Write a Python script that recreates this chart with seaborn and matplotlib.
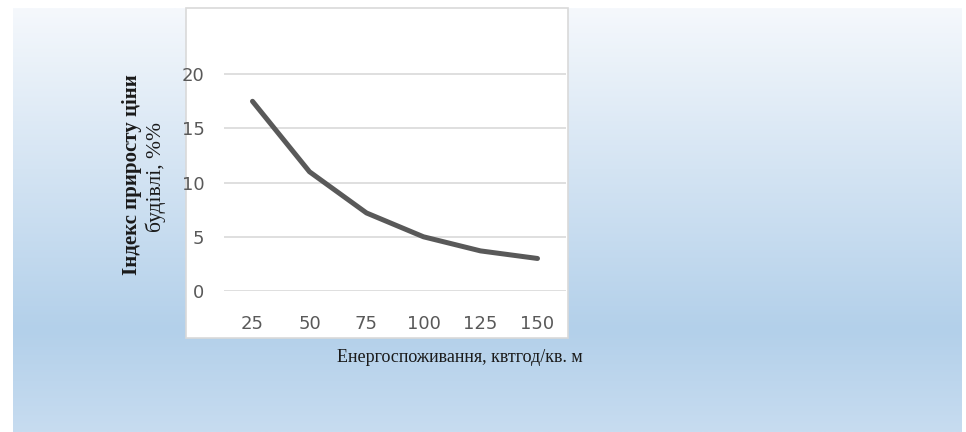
import numpy as np
import pandas as pd
import matplotlib
matplotlib.use("Agg")
import matplotlib.pyplot as plt
from matplotlib.patches import Rectangle
import seaborn as sns

#### Data

energy = ['25', '50', '75', '100', '125', '150']
price_index = [17.5, 11.0, 7.2, 5.0, 3.7, 3.0]
y_ticks = [0, 5, 10, 15, 20]

xlabel = 'Енергоспоживання, квтгод/кв. м'
ylabel_1 = 'Індекс приросту ціни'
ylabel_2 = 'будівлі, %%'

df = pd.DataFrame({'energy': energy, 'index': price_index})

#### Figure

W, H = 966, 432
sns.set_style("white")
plt.rcParams['font.family'] = ['DejaVu Sans']

fg = plt.figure(figsize=(W / 100, H / 100), dpi=100)
fg.patch.set_facecolor('white')

# gradient background
bg = fg.add_axes([0, 0, 1, 1])
bg.set_xlim(0, W)
bg.set_ylim(H, 0)
bg.axis('off')
top_c = np.array([0xf5, 0xf8, 0xfc]) / 255
mid_c = np.array([0xb3, 0xd0, 0xea]) / 255
bot_c = np.array([0xc7, 0xdc, 0xf0]) / 255
t = np.linspace(0, 1, 300)[:, None]
k = 0.76
grad = np.where(t < k, top_c + (mid_c - top_c) * (t / k), mid_c + (bot_c - mid_c) * ((t - k) / (1 - k)))
bg.imshow(grad[:, None, :].repeat(2, axis=1), extent=[13, 962, H, 8], aspect='auto')

# white chart box
bg.add_patch(Rectangle((186, 8), 382, 330, facecolor='white', edgecolor='#d9d9d9', linewidth=1.2))

# y label (two lines)
bg.text(132, 175, ylabel_1, rotation=90, ha='center', va='center', fontsize=15,
        fontweight='bold', family=['Liberation Serif'], color='#1a1a1a')
bg.text(156, 177, ylabel_2, rotation=90, ha='center', va='center', fontsize=15.5,
        family=['Liberation Serif'], color='#1a1a1a')
bg.text(460, 357, xlabel, ha='center', va='center', fontsize=13,
        family=['Liberation Serif'], color='#1a1a1a')

# main axes
left, right = 224, 566
bottom, top = 291, 20
ax = fg.add_axes([left / W, (H - bottom) / H, (right - left) / W, (bottom - top) / H])
ax.patch.set_alpha(0)

sns.lineplot(data=df, x='energy', y='index', ax=ax, color='#595959', linewidth=3.6,
             sort=False, solid_capstyle='round', solid_joinstyle='round')

ax.set_xlim(-0.5, 5.5)
ax.set_ylim(0, 25)
ax.set_yticks(y_ticks)
for yv in y_ticks:
    ax.axhline(yv, color='#d9d9d9', linewidth=1.2, zorder=0)
for s in ax.spines.values():
    s.set_visible(False)
ax.tick_params(axis='both', length=0, labelsize=13, labelcolor='#595959')
ax.tick_params(axis='x', pad=17)
ax.tick_params(axis='y', pad=14)
ax.set_xlabel('')
ax.set_ylabel('')

fg.savefig('out.png', dpi=100)
